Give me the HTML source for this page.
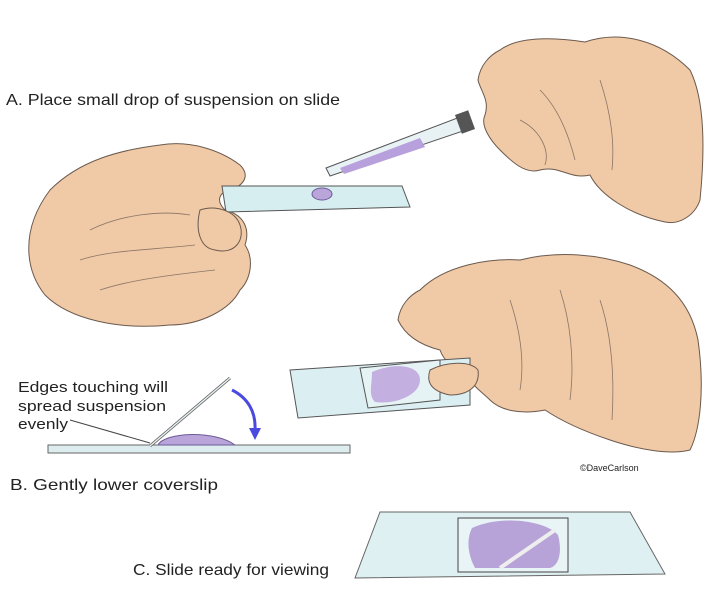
<!DOCTYPE html>
<html><head><meta charset="utf-8"><style>
html,body{margin:0;padding:0;background:#fff}
svg{display:block}
text{font-family:"Liberation Sans",Arial,sans-serif;fill:#222}
</style></head><body>
<svg width="720" height="605" viewBox="0 0 720 605" xmlns="http://www.w3.org/2000/svg">
<rect width="720" height="605" fill="#fff"/>
<g stroke="#6b5a4e" stroke-width="1" fill="#f0c9a6">
<path d="M500,50 C520,35 560,38 585,42 C620,30 660,40 690,70 C705,100 705,150 700,200 C695,215 680,225 665,222 C630,215 600,195 590,175 C570,180 560,165 540,170 C525,175 510,160 500,150 C490,140 480,125 485,115 C490,100 480,90 478,80 C480,65 490,55 500,50 Z"/>
<path d="M50,190 C80,160 120,150 160,145 C190,140 220,150 240,165 C250,175 245,185 230,190 C220,192 215,200 225,210 C245,215 250,230 245,245 C255,260 250,280 240,290 C230,310 200,325 170,325 C120,330 70,320 45,295 C25,270 20,230 50,190 Z"/>
<path d="M420,290 C445,265 490,258 520,260 C560,250 600,255 630,265 C665,278 690,300 698,340 C705,390 700,430 690,450 C670,455 640,450 610,440 C580,430 560,420 545,410 C520,415 500,410 490,400 C480,390 470,385 470,375 C460,370 445,365 440,350 C420,345 405,335 398,320 C400,305 410,295 420,290 Z"/>
</g>
<g stroke="#8a7565" stroke-width="0.8" fill="none">
<path d="M90,230 C120,215 160,210 190,215"/><path d="M80,260 C110,250 150,250 195,245"/><path d="M100,290 C130,280 170,275 215,270"/>
<path d="M540,90 C560,110 570,140 575,160"/><path d="M600,80 C610,110 615,140 612,170"/><path d="M520,120 C540,130 550,150 545,165"/>
<path d="M510,300 C520,330 525,360 520,390"/><path d="M560,290 C570,320 575,360 570,400"/><path d="M600,300 C610,330 615,370 612,420"/>
</g>
<polygon points="222,186 402,186 410,207 226,212" fill="#d7eef0" stroke="#555" stroke-width="1"/>
<ellipse cx="322" cy="194" rx="10" ry="6" fill="#b9a5d9" stroke="#6e5a9a"/>
<path d="M200,210 C215,205 235,210 240,225 C245,240 235,255 215,250 C200,248 195,230 200,210Z" fill="#f0c9a6" stroke="#6b5a4e"/>
<polygon points="326,168 460,117 466,130 330,176" fill="#e8f2f4" stroke="#555"/>
<polygon points="340,168 420,138 425,147 344,174" fill="#b7a0dc"/>
<rect x="458" y="112" width="14" height="20" transform="rotate(-20 465 122)" fill="#555"/>
<polygon points="290,370 470,358 470,405 298,418" fill="#dbeff2" stroke="#555"/>
<polygon points="360,368 440,360 440,400 368,408" fill="#e6f3f5" stroke="#555"/>
<path d="M372,372 C395,362 420,365 420,380 C420,395 395,405 375,402 C368,395 372,385 372,372Z" fill="#c4b0e0"/>
<path d="M430,370 C445,362 470,360 478,370 C480,385 470,395 450,395 C435,392 425,385 430,370Z" fill="#f0c9a6" stroke="#6b5a4e"/>
<rect x="48" y="445" width="302" height="8" fill="#dcecef" stroke="#666"/>
<path d="M158,445 C165,432 215,430 235,445 Z" fill="#b9a5d9" stroke="#6e5a9a"/>
<line x1="150" y1="446" x2="230" y2="378" stroke="#666" stroke-width="3"/>
<line x1="150" y1="446" x2="230" y2="378" stroke="#e6f1f3" stroke-width="1.4"/>
<line x1="70" y1="420" x2="150" y2="443" stroke="#444" stroke-width="1"/>
<path d="M232,390 C248,398 256,412 255,430" fill="none" stroke="#4a4ae0" stroke-width="3"/>
<polygon points="249,428 261,428 255,440" fill="#4a4ae0"/>
<polygon points="380,512 630,512 665,574 355,578" fill="#dff0f2" stroke="#666"/>
<rect x="458" y="518" width="110" height="54" fill="#e8f4f6" stroke="#444"/>
<path d="M472,528 C500,515 545,520 558,535 C562,550 560,565 550,568 L475,568 C468,555 466,540 472,528Z" fill="#b8a3d8"/>
<line x1="500" y1="568" x2="555" y2="530" stroke="#eee" stroke-width="4"/>
<text x="6" y="105" font-size="16" textLength="334" lengthAdjust="spacingAndGlyphs">A. Place small drop of suspension on slide</text>
<text x="18" y="392" font-size="15" textLength="150" lengthAdjust="spacingAndGlyphs">Edges touching will</text>
<text x="18" y="411" font-size="15" textLength="148" lengthAdjust="spacingAndGlyphs">spread suspension</text>
<text x="18" y="429" font-size="15" textLength="50" lengthAdjust="spacingAndGlyphs">evenly</text>
<text x="10" y="490" font-size="16" textLength="208" lengthAdjust="spacingAndGlyphs">B. Gently lower coverslip</text>
<text x="580" y="471" font-size="9">©DaveCarlson</text>
<text x="133" y="575" font-size="16" textLength="196" lengthAdjust="spacingAndGlyphs">C. Slide ready for viewing</text>
</svg>
</body></html>
